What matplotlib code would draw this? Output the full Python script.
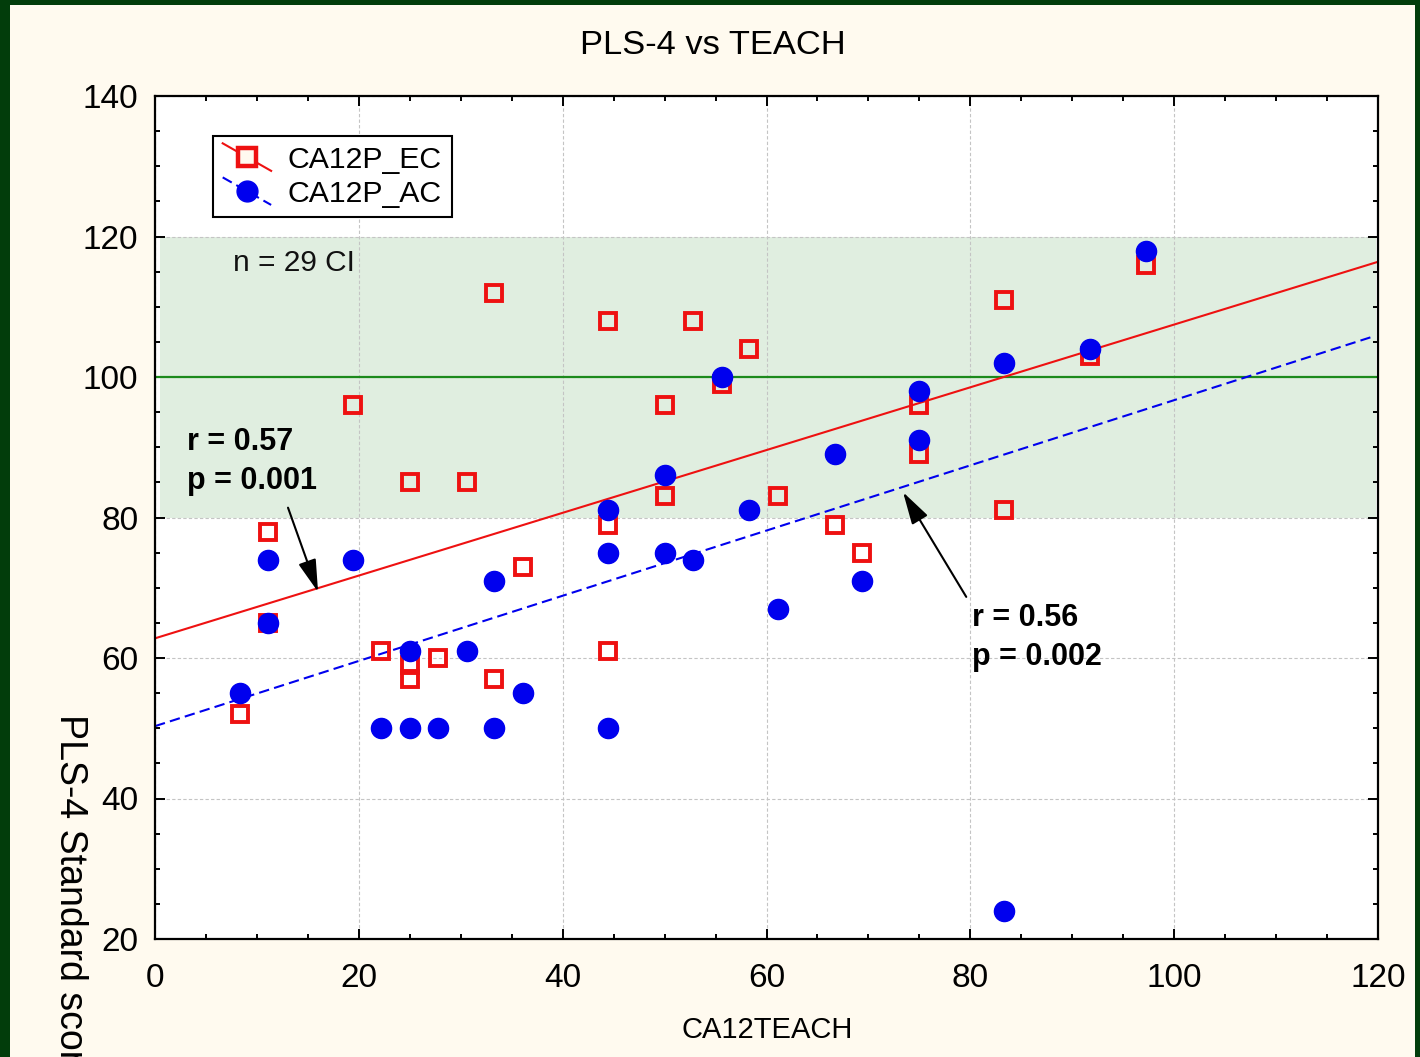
import matplotlib
matplotlib.use("Agg")
import matplotlib.pyplot as plt
import numpy as np
from matplotlib.legend_handler import HandlerLine2D
from matplotlib.lines import Line2D
from matplotlib.patches import Rectangle
from matplotlib.ticker import MultipleLocator

plt.rcParams['font.family'] = ['Liberation Sans', 'DejaVu Sans']

# ---- data ----
ec_x = [8.3, 11.1, 11.1, 19.4, 22.2, 25, 25, 25, 27.8, 30.6, 33.3, 33.3, 36.1,
        44.4, 44.4, 44.4, 50, 50, 52.8, 55.6, 58.3, 61.1, 66.7, 69.4, 75, 75,
        83.3, 83.3, 91.7, 97.2]
ec_y = [52, 78, 65, 96, 61, 85, 59, 57, 60, 85, 112, 57, 73,
        108, 79, 61, 96, 83, 108, 99, 104, 83, 79, 75, 96, 89,
        111, 81, 103, 116]

ac_x = [8.3, 11.1, 11.1, 19.4, 22.2, 25, 25, 27.8, 30.6, 33.3, 33.3, 36.1,
        44.4, 44.4, 44.4, 50, 50, 52.8, 55.6, 58.3, 61.1, 66.7, 69.4, 75, 75,
        83.3, 83.3, 91.7, 97.2]
ac_y = [55, 74, 65, 74, 50, 61, 50, 50, 61, 71, 50, 55,
        81, 75, 50, 86, 75, 74, 100, 81, 67, 89, 71, 98, 91,
        102, 24, 104, 118]

fit_x = [0, 120]
ec_fit_y = [62.8, 116.4]
ac_fit_x = [0, 119.6]
ac_fit_y = [50.3, 105.8]

band_range = [80, 120]
ref_level = 100

series_labels = ['CA12P_EC', 'CA12P_AC']

# ---- colours ----
cream = '#FFFAEF'
frame_green = '#023D0B'
band_green = '#E0EEE0'
red = '#EE1111'
blue = '#0000EE'

fig = plt.figure(figsize=(14.2, 10.57), dpi=100, facecolor=cream)

# dark green frame edges
fig.patches.append(Rectangle((0, 0), 10 / 1420, 1, transform=fig.transFigure,
                             facecolor=frame_green, edgecolor='none', zorder=-1))
fig.patches.append(Rectangle((0, 1 - 5 / 1057), 1, 5 / 1057, transform=fig.transFigure,
                             facecolor=frame_green, edgecolor='none', zorder=-1))
fig.patches.append(Rectangle((1415 / 1420, 0), 5 / 1420, 1, transform=fig.transFigure,
                             facecolor=frame_green, edgecolor='none', zorder=-1))

ax = fig.add_axes([155 / 1420, 1 - 939 / 1057, (1378 - 155) / 1420, (939 - 96) / 1057])
ax.set_facecolor('white')
ax.set_xlim(0, 120)
ax.set_ylim(20, 140)

ax.axhspan(band_range[0], band_range[1], xmin=0.004, xmax=0.998,
           facecolor=band_green, edgecolor='none', zorder=0.1)
ax.set_axisbelow(True)
ax.grid(True, which='major', color='#C4C4C4', linestyle=(0, (3, 2)), linewidth=0.8)
ax.axhline(ref_level, color='#1C8A1C', linewidth=1.6, zorder=1.5)

# regression lines
ax.plot(fit_x, ec_fit_y, color=red, linewidth=1.5, zorder=2)
ax.plot(ac_fit_x, ac_fit_y, color=blue, linewidth=1.5, dashes=(5, 2.5), zorder=2)

# points
ax.plot(ec_x, ec_y, linestyle='none', marker='s', markersize=12,
        markerfacecolor='none', markeredgecolor=red, markeredgewidth=2.8, zorder=3)
ax.plot(ac_x, ac_y, linestyle='none', marker='o', markersize=14.5,
        markerfacecolor=blue, markeredgecolor=blue, zorder=4)

# ticks
ax.xaxis.set_major_locator(MultipleLocator(20))
ax.xaxis.set_minor_locator(MultipleLocator(5))
ax.yaxis.set_major_locator(MultipleLocator(20))
ax.yaxis.set_minor_locator(MultipleLocator(5))
ax.tick_params(which='both', direction='in', top=True, right=True, width=1.4, color='black')
ax.tick_params(which='major', length=7)
ax.tick_params(which='minor', length=3.5)
ax.tick_params(axis='x', which='major', labelsize=24, pad=17)
ax.tick_params(axis='y', which='major', labelsize=24, pad=12)
for s in ax.spines.values():
    s.set_linewidth(1.6)
    s.set_color('black')

# legend with diagonal lines
class DiagHandler(HandlerLine2D):
    def create_artists(self, legend, orig_handle, xdescent, ydescent,
                       width, height, fontsize, trans):
        arts = super().create_artists(legend, orig_handle, xdescent, ydescent,
                                      width, height, fontsize, trans)
        for a in arts:
            xd = np.asarray(a.get_xdata(), dtype=float)
            if len(xd) == 3:
                top = height + 0.15 * height
                bot = -0.15 * height
                a.set_ydata(np.linspace(top, bot, 3))
        return arts

h_ec = Line2D([], [], color=red, linewidth=1.5, marker='s', markersize=13,
              markerfacecolor=cream, markeredgecolor=red, markeredgewidth=3.2)
h_ac = Line2D([], [], color=blue, linewidth=1.5, dashes=(5, 2.5), marker='o',
              markersize=15, markerfacecolor=blue, markeredgecolor=blue)
leg = ax.legend([h_ec, h_ac], series_labels, loc='upper left',
                bbox_to_anchor=((213 - 155) / 1223, (939 - 136) / 843),
                borderaxespad=0, fontsize=21.8, numpoints=1, handlelength=1.6,
                handletextpad=0.55, labelspacing=0.2, borderpad=0.32,
                fancybox=False, framealpha=1, edgecolor='black',
                handler_map={Line2D: DiagHandler()})
leg.get_frame().set_linewidth(1.5)

# annotations
ax.text(7.65, 115.1, 'n = 29 CI', fontsize=21.5, va='baseline', ha='left', color='#111111')
ax.text(3.1, 89.6, 'r = 0.57', fontsize=22, fontweight='bold', va='baseline', ha='left')
ax.text(3.1, 84.1, 'p = 0.001', fontsize=22, fontweight='bold', va='baseline', ha='left')
ax.text(80.2, 64.6, 'r = 0.56', fontsize=22, fontweight='bold', va='baseline', ha='left')
ax.text(80.2, 59.0, 'p = 0.002', fontsize=22, fontweight='bold', va='baseline', ha='left')

arrow_kw = dict(arrowstyle='-|>,head_length=1.0,head_width=0.28', color='black',
                lw=1.5, shrinkA=0, shrinkB=0, mutation_scale=20)
ax.annotate('', xy=(16.0, 69.4), xytext=(13.05, 81.4), arrowprops=arrow_kw, zorder=5)
ax.annotate('', xy=(73.4, 83.6), xytext=(79.6, 68.7), arrowprops=arrow_kw, zorder=5)

# titles
fig.text(713 / 1420, 1 - 45 / 1057, 'PLS-4 vs TEACH', fontsize=24.8, ha='center', va='center')
fig.text(767 / 1420, 1 - 1030 / 1057, 'CA12TEACH', fontsize=21, ha='center', va='center')
fig.text(70 / 1420, 1 - 714 / 1057, 'PLS-4 Standard score', fontsize=27,
         rotation=-90, ha='center', va='top')

fig.savefig('out.png', dpi=100, facecolor=cream)
